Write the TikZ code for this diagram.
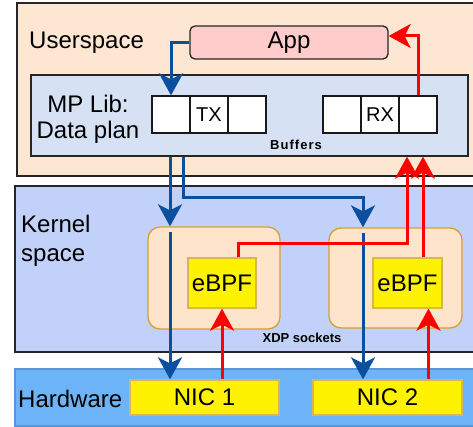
\documentclass[tikz,border=0pt]{standalone}
\usepackage{fontspec}
\setmainfont{Liberation Sans}
\usetikzlibrary{arrows.meta}
\definecolor{userfill}{HTML}{FDE6D2}
\definecolor{libfill}{HTML}{D6E2F4}
\definecolor{kernfill}{HTML}{C2D1FA}
\definecolor{hwfill}{HTML}{6CB4F7}
\definecolor{hwdraw}{HTML}{5A95D6}
\definecolor{appfill}{HTML}{FFCCCC}
\definecolor{sockfill}{HTML}{FFE4CC}
\definecolor{sockdraw}{HTML}{D6A030}
\definecolor{progdraw}{HTML}{D6B656}
\definecolor{txblue}{HTML}{0B4F9F}
\definecolor{rxred}{HTML}{FF0000}
\tikzset{
  layer/.style={draw=black!85, line width=1.3pt, inner sep=0pt},
  cell/.style={draw=black!90, line width=1.3pt, fill=white, inner sep=0pt,
    minimum width=38, minimum height=37, font=\fontsize{20}{22}\selectfont},
  sock/.style={draw=sockdraw, fill=sockfill, line width=1.3pt, rounded corners=12pt, inner sep=0pt},
  prog/.style={draw=progdraw, fill=yellow, line width=1.3pt, inner sep=0pt},
  lbl/.style={inner sep=0pt, font=\fontsize{24}{26}\selectfont},
  tag/.style={inner sep=0pt, font=\fontsize{13}{15}\selectfont\bfseries},
  txline/.style={draw=txblue, line width=3pt, -{Stealth[length=22pt,width=24pt,inset=6pt]}},
  rxline/.style={draw=rxred, line width=3pt, -{Stealth[length=22pt,width=24pt,inset=6pt]}},
}
\begin{document}
\begin{tikzpicture}[x=1pt,y=-1pt]
\clip (0,0) rectangle (473,427);
% layers
\node[layer, fill=userfill, minimum width=473, minimum height=173] (user) at (253.5,89.5) {};
\node[layer, fill=kernfill, minimum width=475, minimum height=166] (kern) at (252.5,269) {};
\node[layer, draw=hwdraw, fill=hwfill, minimum width=475, minimum height=57] (hw) at (252.5,397.5) {};
\node[lbl, anchor=west] (usert) at (29,43) {Userspace};
\node[lbl, anchor=west, align=left, font=\fontsize{24}{29}\selectfont] (kernt) at (21,241) {Kernel\\space};
\node[lbl, anchor=west] (hwt) at (18,399) {Hardware};

% userspace
\node[layer, fill=appfill, rounded corners=5pt, minimum width=198, minimum height=33] (app) at (289,42.5) {};
\node[lbl] at (app) {App};
\node[layer, fill=libfill, minimum width=437, minimum height=81] (lib) at (249.5,115.5) {};
\node[lbl, align=center] (libt) at (88,119) {MP Lib:\\Data plan};
\node[cell] (tx1) at (171,114.5) {};
\node[cell] (tx2) at (209,114.5) {TX};
\node[cell] (tx3) at (247,114.5) {};
\node[cell] (rx1) at (342,114.5) {};
\node[cell] (rx2) at (380,114.5) {RX};
\node[cell] (rx3) at (418,114.5) {};
\node[tag] (buft) at (296,145) {\addfontfeature{LetterSpace=8}Buffers};

% kernel + hardware
\node[sock, minimum width=132, minimum height=102] (sock1) at (214,278) {};
\node[sock, minimum width=133, minimum height=100] (sock2) at (395.5,278) {};
\node[tag] (xdpt) at (302,338) {XDP sockets};
\node[prog, minimum width=68, minimum height=50] (ebpf1) at (222,283) {};
\node[lbl] at (ebpf1) {eBPF};
\node[prog, minimum width=69, minimum height=50] (ebpf2) at (407.5,283) {};
\node[lbl] at (ebpf2) {eBPF};
\node[prog, minimum width=149, minimum height=35] (nic1) at (204.5,397.5) {};
\node[lbl] at (nic1) {NIC 1};
\node[prog, minimum width=149, minimum height=35] (nic2) at (387.5,397.5) {};
\node[lbl] at (nic2) {NIC 2};

\coordinate (laneA) at (170,0);
\coordinate (laneB) at (183,0);
\coordinate (laneC) at (363,198);
\coordinate (laneD) at (407,244);
\coordinate (laneE) at (423,0);

\draw[txline] (app.west) -| (tx1.north);
\draw[rxline] (rx3.north) |- ([yshift=6.5pt]app.east);
\draw[txline] (lib.south -| laneA) -- (sock1.north -| laneA);
\draw[txline] ([yshift=-6pt]sock1.north -| laneA) -- (nic1.north -| laneA);
\draw[txline] (lib.south -| laneB) |- (laneC) -- (laneC |- sock2.north);
\draw[txline] ([yshift=-6pt]sock2.north -| laneC) -- (nic2.north -| laneC);
\draw[rxline] ([xshift=16pt]ebpf1.north) |- (laneD) -- (laneD |- lib.south);
\draw[rxline] (laneE |- ebpf2.north) -- (laneE |- lib.south);
\draw[rxline] (ebpf1.south |- nic1.north) -- (ebpf1.south);
\draw[rxline] ([xshift=21pt]ebpf2.south |- nic2.north) -- ([xshift=21pt]ebpf2.south);
\end{tikzpicture}
\end{document}
